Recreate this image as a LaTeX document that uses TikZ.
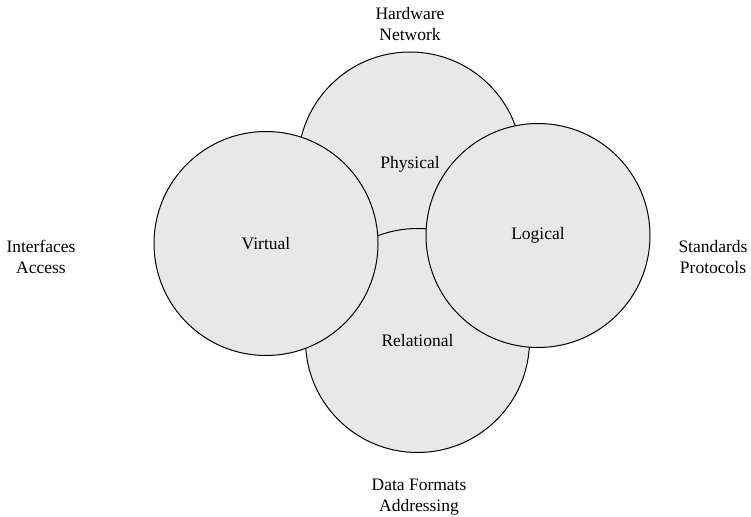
\documentclass[tikz,border=0pt]{standalone}
\usepackage{fontspec}
\setmainfont{Liberation Serif}
\begin{document}
\begin{tikzpicture}[x=1pt,y=-1pt,
  realm/.style={circle,draw=black,line width=1pt,fill=black!9,
    minimum size=224pt,inner sep=0pt,font=\fontsize{17.5}{21}\selectfont},
  aspect/.style={align=center,font=\fontsize{17.5}{21}\selectfont}]
  \useasboundingbox (0,0) rectangle (751,516);
  % overlapping realms, back to front
  \node[realm] (physical)   at (410,164)   {Physical};
  \node[realm] (relational) at (417.5,340.5) {Relational};
  \node[realm] (virtual)    at (266,243.5) {Virtual};
  \node[realm] (logical)    at (538,235.5) {Logical};
  % aspects around the realms
  \node[aspect] (hw)  at (410,24)  {Hardware\\Network};
  \node[aspect] (ifc) at (41,257)  {Interfaces\\Access};
  \node[aspect] (std) at (713,257) {Standards\\Protocols};
  \node[aspect] (dat) at (419,497) {Data Formats\\Addressing};
\end{tikzpicture}
\end{document}
